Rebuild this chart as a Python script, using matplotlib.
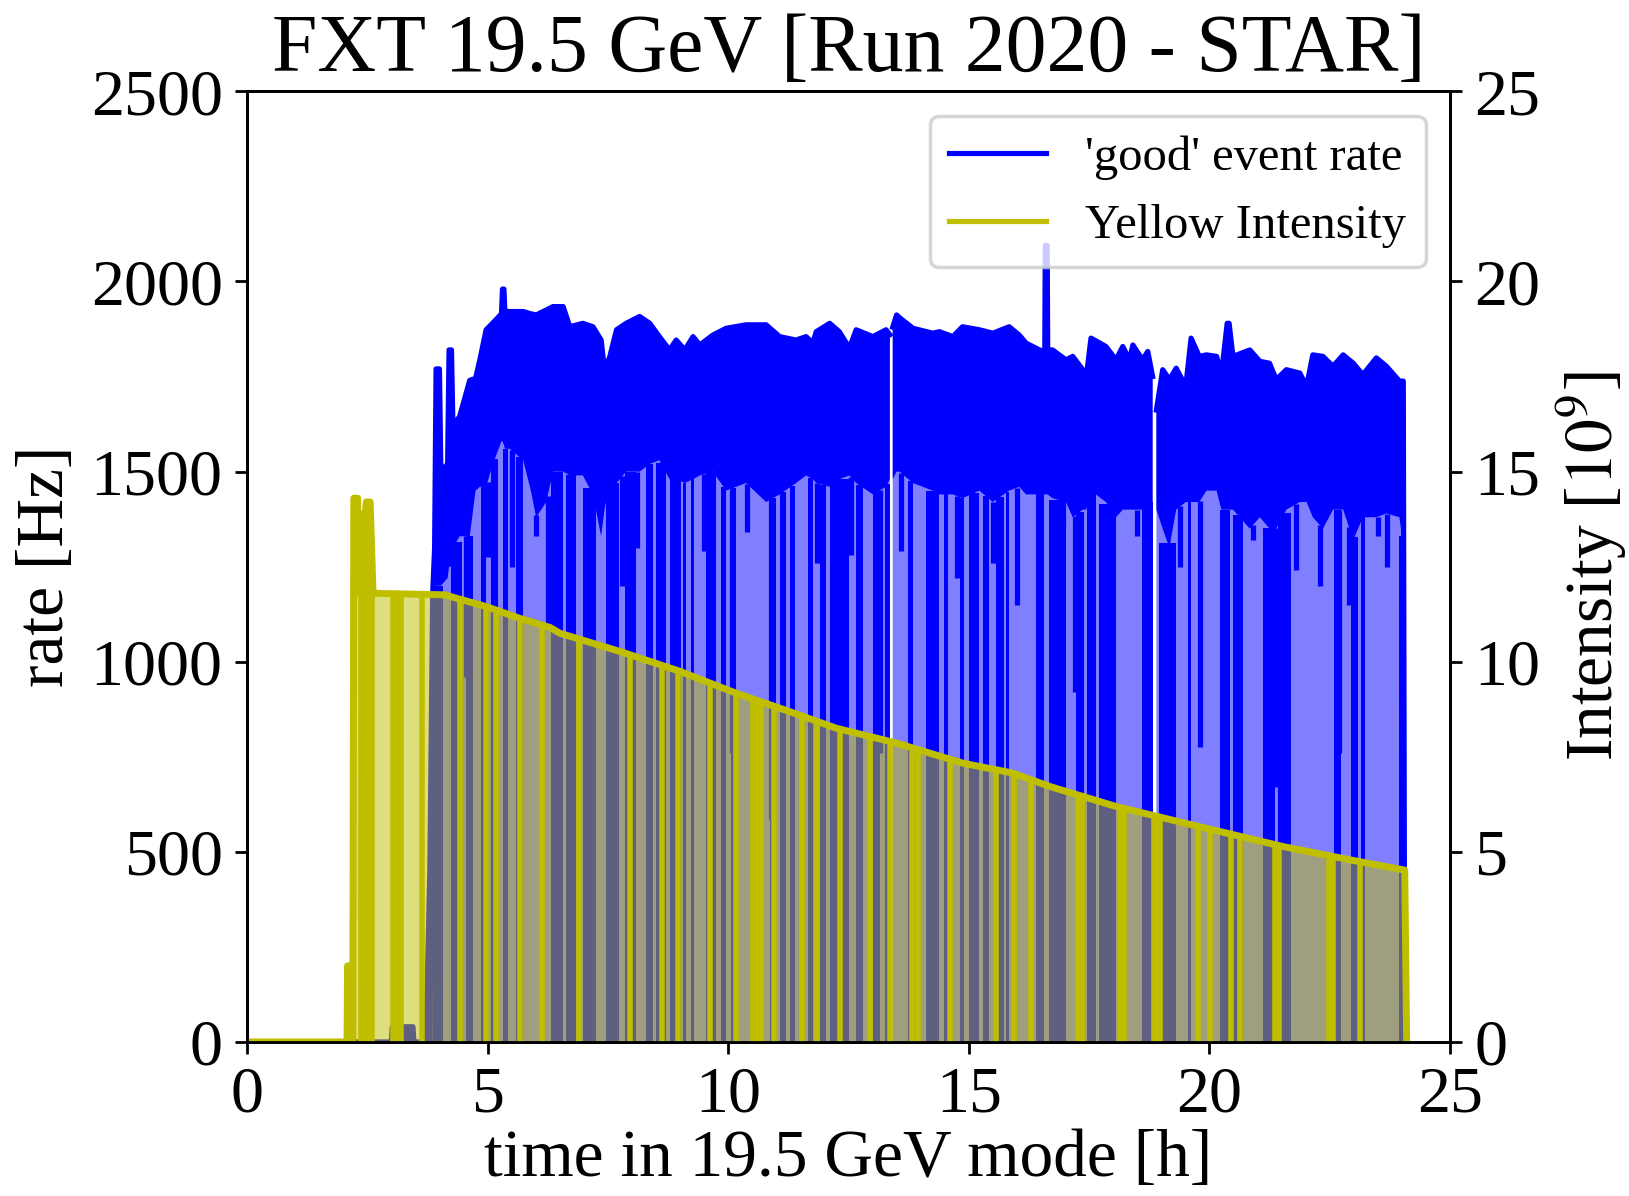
"""
FXT 19.5 GeV (Run 2020, STAR): 'good' event rate vs. yellow beam intensity
"""

import numpy as np
import matplotlib
matplotlib.use("Agg")
import matplotlib.pyplot as plt
from matplotlib.lines import Line2D

nan = np.nan

# 'good' event rate [Hz]: time [h], upper edge and lower edge of the dense band
env_t = [0.00, 3.00, 3.02, 3.45, 3.47, 3.72, 3.80, 3.86, 3.90, 3.93, 4.00, 4.03,
         4.17, 4.20, 4.25, 4.28, 4.42, 4.63, 4.75, 4.84, 4.97, 5.11, 5.29, 5.31,
         5.34, 5.36, 5.46, 5.74, 5.90, 6.01, 6.22, 6.36, 6.57, 6.71, 6.98, 7.19,
         7.36, 7.43, 7.54, 7.68, 7.88, 8.16, 8.37, 8.57, 8.78, 8.92, 9.10, 9.27,
         9.41, 9.68, 9.96, 10.37, 10.79, 11.07, 11.41, 11.62, 11.76, 11.83, 12.11,
         12.31, 12.52, 12.66, 13.01, 13.28, 13.36, 13.39, 13.42, 13.50, 13.56,
         13.84, 14.25, 14.39, 14.67, 14.87, 15.22, 15.50, 15.84, 16.05, 16.19,
         16.47, 16.58, 16.59, 16.63, 16.64, 16.74, 17.02, 17.16, 17.37, 17.44,
         17.54, 17.85, 18.06, 18.20, 18.34, 18.41, 18.61, 18.72, 18.82, 18.86,
         18.90, 19.03, 19.17, 19.31, 19.51, 19.62, 19.79, 19.94, 20.15, 20.25,
         20.37, 20.41, 20.49, 20.84, 21.05, 21.25, 21.39, 21.60, 21.88, 22.02,
         22.15, 22.36, 22.57, 22.78, 22.99, 23.19, 23.47, 23.68, 23.95, 24.03,
         24.06]
rate_hi = [0, 0, 40, 40, 0, 0, 450, 1180, 1300, 1770, 1770, 1500,
           1520, 1820, 1820, 1620, 1645, 1740, 1745, 1794, 1873, 1891, 1915, 1980,
           1980, 1921, 1921, 1921, 1915, 1912, 1925, 1934, 1934, 1881, 1890, 1881,
           1846, 1767, 1802, 1873, 1890, 1908, 1890, 1855, 1820, 1846, 1820, 1855,
           1833, 1859, 1877, 1886, 1886, 1855, 1846, 1855, 1838, 1868, 1890,
           1868, 1825, 1873, 1855, 1873, 1860, nan, 1880, 1912, 1905,
           1877, 1864, 1868, 1855, 1881, 1873, 1864, 1881, 1859, 1838,
           1820, 1815, 2095, 2095, 1820, 1820, 1794, 1803, 1768, 1746,
           1851, 1829, 1794, 1829, 1794, 1833, 1794, 1816, 1750, nan,
           1662, 1768, 1742, 1772, 1724, 1851, 1803, 1807, 1803, 1755,
           1890, 1890, 1803, 1820, 1790, 1785, 1742, 1768, 1759, 1724,
           1807, 1803, 1777, 1807, 1785, 1755, 1799, 1777, 1738, 1738,
           0]
rate_lo = [0, 0, 0, 0, 0, 0, 0, 0, 1180, 1200, 1200, 1200,
           1220, 1250, 1250, 1300, 1330, 1330, 1450, 1460, 1460, 1520, 1580, 1580,
           1570, 1560, 1560, 1530, 1450, 1380, 1420, 1500, 1500, 1490, 1490, 1440,
           1330, 1400, 1470, 1470, 1500, 1500, 1520, 1530, 1480, 1480, 1470, 1480,
           1490, 1500, 1450, 1470, 1420, 1440, 1470, 1490, 1480, 1470, 1460,
           1480, 1490, 1470, 1440, 1460, 1480, nan, 1480, 1500, 1500,
           1470, 1450, 1440, 1440, 1430, 1450, 1420, 1450, 1460, 1440,
           1440, 1440, 1440, 1440, 1440, 1430, 1420, 1380, 1400, 1400,
           1450, 1420, 1380, 1400, 1400, 1400, 1400, 1420, 1420, nan,
           1400, 1350, 1300, 1400, 1420, 1420, 1420, 1450, 1450, 1400,
           1400, 1400, 1400, 1350, 1380, 1350, 1350, 1400, 1420, 1420,
           1380, 1350, 1400, 1400, 1320, 1380, 1380, 1390, 1380, 1300,
           0]

# stretches where the rate keeps dropping to zero [h]
drop_start = [3.87, 4.25, 4.56, 4.87, 5.08, 5.32, 5.60, 6.32, 6.64, 6.98, 7.47,
              7.85, 8.30, 8.51, 8.80, 9.06, 9.23, 9.54, 9.86, 10.06, 10.86, 11.07,
              11.28, 11.66, 11.90, 12.11, 12.66, 13.01, 13.25, 13.73, 14.11, 14.49,
              14.81, 15.01, 15.29, 15.57, 15.78, 16.40, 16.66, 17.23, 17.45, 17.70,
              18.61, 18.96, 19.55, 20.22, 20.49, 21.12, 21.43, 22.60, 22.95, 23.16,
              23.95]
drop_end = [4.07, 4.46, 4.70, 4.97, 5.22, 5.42, 5.74, 6.57, 6.84, 7.26, 7.74,
            8.09, 8.44, 8.70, 9.02, 9.13, 9.30, 9.75, 9.96, 10.17, 11.00, 11.21,
            11.38, 11.76, 12.04, 12.52, 12.80, 13.15, 13.37, 13.84, 14.39, 14.56,
            14.91, 15.22, 15.43, 15.74, 15.84, 16.57, 17.02, 17.40, 17.65, 18.06,
            18.82, 19.31, 19.62, 20.42, 20.70, 21.36, 21.70, 22.74, 23.09, 23.23,
            24.05]

# partial drops: time and lowest rate [Hz]
part_dip_t = [4.55, 5.00, 5.50, 6.00, 6.25, 7.80, 8.10, 9.50, 10.07, 10.40, 10.90,
              11.85, 12.55, 13.15, 13.60, 14.75, 15.50, 16.00, 16.95, 17.20, 17.95,
              18.50, 19.40, 19.80, 20.90, 21.40, 21.80, 22.30, 22.70, 22.90, 23.50,
              23.70]
part_dip_lo = [960, 1275, 1250, 1330, 1100, 1200, 1300, 1290, 760, 1340, 584,
               1260, 1280, 760, 1290, 1220, 1260, 1150, 1350, 920, 172,
               1330, 1250, 776, 1320, 670, 1240, 1200, 760, 1150, 1330,
               1250]

# yellow beam intensity [10^9]
int_t = [0.00, 2.08, 2.09, 2.12, 2.13, 2.20, 2.22, 2.30, 2.32, 2.40, 2.42, 2.46,
         2.48, 2.56, 2.62, 4.10, 4.97, 5.67, 6.30, 6.50, 7.75, 8.99, 10.17, 11.07,
         12.25, 13.50, 14.88, 15.92, 16.68, 18.07, 19.80, 21.53, 22.92, 24.06,
         24.10]
int_v = [0, 0, 2.0, 2.0, 0, 0, 14.3, 14.3, 11.8, 11.8, 13.9, 13.9,
         14.2, 14.2, 11.8, 11.76, 11.45, 11.14, 10.9, 10.75, 10.27, 9.75, 9.17, 8.78,
         8.25, 7.86, 7.33, 7.07, 6.72, 6.19, 5.66, 5.14, 4.79, 4.52,
         0]

# times where the intensity drops to zero
int_dip_t = [2.15, 2.36, 2.44, 2.52, 2.60, 3.03, 3.12, 3.21, 3.64, 4.42, 4.97,
             5.18, 5.67, 6.13, 6.91, 7.95, 8.63, 8.96, 9.63, 10.16, 10.52, 10.60,
             10.68, 10.95, 11.54, 11.85, 12.32, 12.94, 13.36, 13.81, 13.95, 14.60,
             15.56, 15.95, 16.30, 17.27, 17.36, 18.14, 18.23, 18.84, 18.91, 18.98,
             19.76, 20.02, 20.45, 20.63, 21.36, 21.44, 22.48, 22.56, 23.13]

plt.rcParams["font.family"] = ["Liberation Serif", "DejaVu Serif"]
plt.rcParams["mathtext.fontset"] = "stix"

fig = plt.figure(figsize=(1629 / 250, 1196 / 250), dpi=250)
ax = fig.add_axes([0.1516, 0.1288, 0.7385, 0.7948])

t = np.array(env_t)
hi = np.array(rate_hi, dtype=float)
lo = np.array(rate_lo, dtype=float)

# rate: light fill + dense band + drops
ax.fill_between(t, 0, hi, color="b", alpha=0.5, lw=0)
ax.fill_between(t, lo, hi, color="b", lw=0)
ax.plot(t, hi, color="b", lw=1.5)

d0 = np.array(drop_start)
d1 = np.array(drop_end)
ax.bar(d0, np.interp((d0 + d1) / 2, t, lo), width=d1 - d0, align="edge",
       color="b", lw=0)
ax.vlines(part_dip_t, part_dip_lo, np.interp(part_dip_t, t, lo), color="b", lw=1.5)

ax.set_xlim(0, 25)
ax.set_ylim(0, 2500)
ax.set_xticks(np.arange(0, 26, 5))
ax.set_yticks(np.arange(0, 2501, 500))
ax.tick_params(labelsize=19)
ax.set_xlabel("time in 19.5 GeV mode [h]", fontsize=19.4, labelpad=1)
ax.set_ylabel("rate [Hz]", fontsize=19.4)
ax.set_title("FXT 19.5 GeV [Run 2020 - STAR]", fontsize=23.5)

# intensity on the right axis
ax2 = ax.twinx()
ax2.fill_between(int_t, 0, int_v, color="y", alpha=0.5, lw=0)
ax2.plot(int_t, int_v, color="y", lw=2.0)
ax2.vlines(int_dip_t, 0, np.interp(int_dip_t, int_t, int_v), color="y", lw=1.6)
ax2.set_ylim(0, 25)
ax2.set_yticks(np.arange(0, 26, 5))
ax2.tick_params(labelsize=19)
ax2.set_ylabel("Intensity [$10^9$]", fontsize=19.4)

handles = [Line2D([], [], color="b", lw=1.5), Line2D([], [], color="y", lw=1.5)]
ax2.legend(handles, ["'good' event rate", "Yellow Intensity"],
           loc="upper right", fontsize=14)

fig.savefig("out.png", dpi=250)
